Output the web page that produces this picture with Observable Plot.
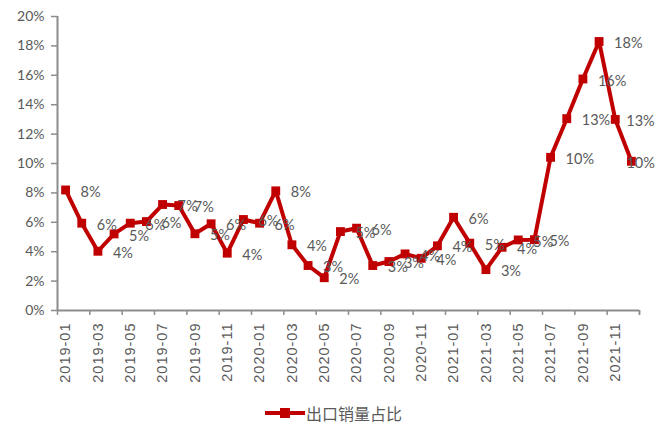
<!DOCTYPE html>
<html>
<head>
<meta charset="utf-8">
<script src="https://cdn.jsdelivr.net/npm/d3@7"></script>
<script src="https://cdn.jsdelivr.net/npm/@observablehq/plot@0.6"></script>
<style>
  html, body { margin: 0; padding: 0; background: #fff; }
  #chart { width: 667px; }
  #legend { width: 667px; height: 30px; display: flex; justify-content: center; align-items: center; box-sizing: border-box; }
  #legend span { font-family: "Noto Sans CJK SC", sans-serif; font-size: 16px; color: #595959; margin-left: 1px; }
</style>
</head>
<body>
<div id="chart"></div>
<div id="legend"></div>
<script>
const months = [
  "2019-01","2019-02","2019-03","2019-04","2019-05","2019-06","2019-07","2019-08","2019-09","2019-10","2019-11","2019-12",
  "2020-01","2020-02","2020-03","2020-04","2020-05","2020-06","2020-07","2020-08","2020-09","2020-10","2020-11","2020-12",
  "2021-01","2021-02","2021-03","2021-04","2021-05","2021-06","2021-07","2021-08","2021-09","2021-10","2021-11","2021-12"
];
const exportShare = [
  8.2, 5.94, 4.03, 5.21, 5.94, 6.05, 7.21, 7.14, 5.22, 5.9, 3.9, 6.19,
  5.94, 8.14, 4.47, 3.06, 2.23, 5.37, 5.6, 3.06, 3.33, 3.85, 3.55, 4.4,
  6.34, 4.58, 2.78, 4.3, 4.8, 4.82, 10.42, 13.05, 15.75, 18.3, 13.0, 10.15
];
const yTicks = [0, 2, 4, 6, 8, 10, 12, 14, 16, 18, 20];
const seriesName = "出口销量占比";

const data = months.map((m, i) => ({i, month: m, value: exportShare[i]}));
const n = data.length;
const labelIdx = months.map((m, i) => i).filter(i => i % 2 === 0);
const boundaries = d3.range(-0.5, n, 2).concat([n - 0.5]);

const red = "#C00000";
const gray = "#8c8c8c";
const textGray = "#595959";
const labelText = d => Math.round(d.value) + "%";
const labelStyle = {x: "i", y: "value", text: labelText, dy: 2, textAnchor: "start", fill: textGray, fontSize: 14.5, fontFamily: "Lato"};

const chart = Plot.plot({
  width: 667,
  height: 398,
  marginLeft: 57,
  marginRight: 28,
  marginTop: 16,
  marginBottom: 88,
  x: {type: "linear", domain: [-0.5, n - 0.5]},
  y: {domain: [0, 20]},
  marks: [
    Plot.axisY({
      ticks: yTicks, tickFormat: d => d + "%", tickSize: 6, tickPadding: 7,
      stroke: gray, strokeWidth: 1.5, fill: textGray, fontSize: 14, fontFamily: "Lato", label: null
    }),
    Plot.axisX({
      ticks: boundaries, tickFormat: () => "", tickSize: 5, stroke: gray, strokeWidth: 1.5, label: null
    }),
    Plot.axisX({
      ticks: labelIdx, tickFormat: i => months[i], tickSize: 0, tickPadding: 12, tickRotate: -90,
      fill: textGray, fontSize: 14.5, fontFamily: "Liberation Sans", label: null
    }),
    Plot.ruleX([-0.5], {y1: 0, y2: 20, stroke: gray, strokeWidth: 2}),
    Plot.ruleY([0], {stroke: gray, strokeWidth: 2}),
    Plot.line(data, {x: "i", y: "value", stroke: red, strokeWidth: 4, strokeLinejoin: "miter"}),
    Plot.dot(data, {x: "i", y: "value", symbol: "square", r: 5, fill: red, stroke: null}),
    Plot.text(data.slice(0, n - 2), {...labelStyle, dx: 15}),
    Plot.text(data.slice(n - 2, n - 1), {...labelStyle, dx: 11}),
    Plot.text(data.slice(n - 1), {...labelStyle, dx: -5})
  ]
});
chart.querySelectorAll('g[aria-label="x-axis tick label"] text').forEach(t => t.setAttribute("letter-spacing", "1"));
document.getElementById("chart").appendChild(chart);

const lg = document.getElementById("legend");
lg.innerHTML = `<svg width="40" height="14"><line x1="0" y1="7" x2="40" y2="7" stroke="${red}" stroke-width="4"/><rect x="15" y="2" width="10" height="10" fill="${red}"/></svg><span>${seriesName}</span>`;
</script>
</body>
</html>
